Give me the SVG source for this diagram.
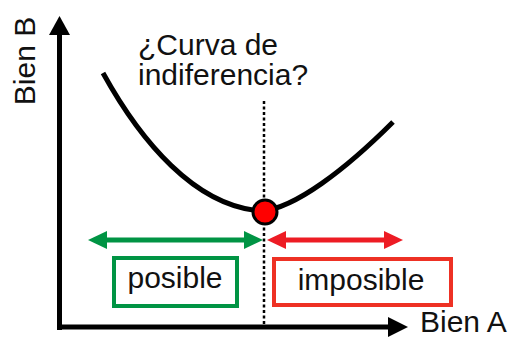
<svg xmlns="http://www.w3.org/2000/svg" width="515" height="338" viewBox="0 0 515 338">
<style>
text{font-family:"Liberation Sans",Arial,sans-serif;font-size:30px;fill:#111}
.ax{stroke:#000;stroke-width:5;fill:none}
.box{fill:#fff;stroke-width:4}
</style>
<rect width="515" height="338" fill="#fff"/>
<g id="connectors">
<line class="ax" x1="59.5" y1="330" x2="59.5" y2="33"/>
<polygon points="59.5,16 49,35 70,35" fill="#000"/>
<line class="ax" x1="57" y1="327" x2="390" y2="327"/>
<polygon points="408,327 388,317 388,337" fill="#000"/>
<line x1="264" y1="101" x2="264" y2="324" stroke="#000" stroke-width="2.5" stroke-dasharray="3,2.5"/>
<path d="M103,73 C140,140 195,207 262,211 C295,208 345,170 393,122" stroke="#000" stroke-width="5" fill="none"/>
<line x1="104" y1="240" x2="247" y2="240" stroke="#009444" stroke-width="5"/>
<polygon points="88,240 107,231 107,249" fill="#009444"/>
<polygon points="263,240 244,231 244,249" fill="#009444"/>
<line x1="283" y1="240" x2="387" y2="240" stroke="#ed1c24" stroke-width="5"/>
<polygon points="267,240 286,231 286,249" fill="#ed1c24"/>
<polygon points="403,240 384,231 384,249" fill="#ed1c24"/>
</g>
<g id="point"><circle cx="265" cy="212" r="12" fill="#ff0000" stroke="#000" stroke-width="3"/></g>
<g id="label-curve">
<text x="138" y="55">¿Curva de</text>
<text x="138" y="85">indiferencia?</text>
</g>
<g id="axis-b"><text transform="translate(35,61) rotate(-90)" text-anchor="middle">Bien B</text></g>
<g id="axis-a"><text x="420" y="332" font-size="29">Bien A</text></g>
<g id="posible">
<rect class="box" x="114" y="258" width="123" height="48" stroke="#009444"/>
<text x="175" y="288" text-anchor="middle">posible</text>
</g>
<g id="imposible">
<rect class="box" x="274" y="259" width="177" height="46" stroke="#ee3124"/>
<text x="361" y="290" text-anchor="middle">imposible</text>
</g>
</svg>
